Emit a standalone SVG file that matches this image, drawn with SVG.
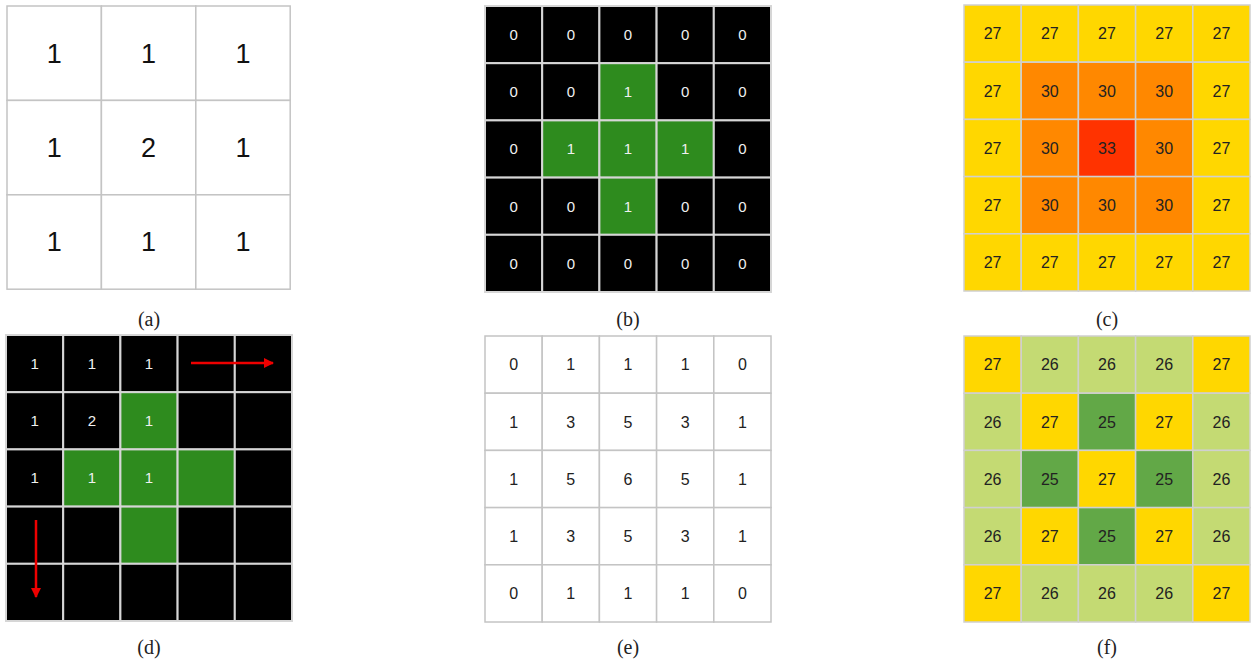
<svg xmlns="http://www.w3.org/2000/svg" width="1255" height="663" viewBox="0 0 1255 663">
<style>
.w{fill:#fff;stroke:#c4c4c4;stroke-width:1.5}
.k{fill:#000;stroke:#d6d6d6;stroke-width:2}
.g{fill:#2e8b1e;stroke:#d6d6d6;stroke-width:2}
.y{fill:#ffd700;stroke:#d0d0d0;stroke-width:1.5}
.o{fill:#ff8800;stroke:#d0d0d0;stroke-width:1.5}
.r{fill:#ff3300;stroke:#d0d0d0;stroke-width:1.5}
.lg{fill:#c4da73;stroke:#d0d0d0;stroke-width:1.5}
.dg{fill:#62a847;stroke:#d0d0d0;stroke-width:1.5}
text{font-family:"Liberation Sans",Arial,sans-serif;text-anchor:middle}
.ta{font-size:27px;fill:#111}
.tw{font-size:15px;fill:#f0f0f0}
.tb{font-size:16px;fill:#222}
.cap{font-family:"Liberation Serif","DejaVu Serif",serif;font-size:20px;fill:#222}
.arr{stroke:#ee0000;stroke-width:2.5;fill:none}
</style>
<defs>
<marker id="ah" viewBox="0 0 10 10" refX="9" refY="5" markerWidth="4" markerHeight="4" orient="auto" markerUnits="strokeWidth">
<path d="M0,0 L10,5 L0,10 z" fill="#ee0000"/>
</marker>
</defs>

<g id="panel-a" transform="translate(7,6)">
<rect class="w" x="0" y="0" width="94.4" height="94.4"/><rect class="w" x="94.4" y="0" width="94.4" height="94.4"/><rect class="w" x="188.8" y="0" width="94.4" height="94.4"/>
<rect class="w" x="0" y="94.4" width="94.4" height="94.4"/><rect class="w" x="94.4" y="94.4" width="94.4" height="94.4"/><rect class="w" x="188.8" y="94.4" width="94.4" height="94.4"/>
<rect class="w" x="0" y="188.8" width="94.4" height="94.4"/><rect class="w" x="94.4" y="188.8" width="94.4" height="94.4"/><rect class="w" x="188.8" y="188.8" width="94.4" height="94.4"/>
<text class="ta" x="47.2" y="56.5">1</text><text class="ta" x="141.6" y="56.5">1</text><text class="ta" x="236" y="56.5">1</text>
<text class="ta" x="47.2" y="150.9">1</text><text class="ta" x="141.6" y="150.9">2</text><text class="ta" x="236" y="150.9">1</text>
<text class="ta" x="47.2" y="245.3">1</text><text class="ta" x="141.6" y="245.3">1</text><text class="ta" x="236" y="245.3">1</text>
</g>

<g id="panel-b" transform="translate(485,6)">
<rect class="k" x="0" y="0" width="57.2" height="57.2"/><rect class="k" x="57.2" y="0" width="57.2" height="57.2"/><rect class="k" x="114.4" y="0" width="57.2" height="57.2"/><rect class="k" x="171.6" y="0" width="57.2" height="57.2"/><rect class="k" x="228.8" y="0" width="57.2" height="57.2"/>
<rect class="k" x="0" y="57.2" width="57.2" height="57.2"/><rect class="k" x="57.2" y="57.2" width="57.2" height="57.2"/><rect class="g" x="114.4" y="57.2" width="57.2" height="57.2"/><rect class="k" x="171.6" y="57.2" width="57.2" height="57.2"/><rect class="k" x="228.8" y="57.2" width="57.2" height="57.2"/>
<rect class="k" x="0" y="114.4" width="57.2" height="57.2"/><rect class="g" x="57.2" y="114.4" width="57.2" height="57.2"/><rect class="g" x="114.4" y="114.4" width="57.2" height="57.2"/><rect class="g" x="171.6" y="114.4" width="57.2" height="57.2"/><rect class="k" x="228.8" y="114.4" width="57.2" height="57.2"/>
<rect class="k" x="0" y="171.6" width="57.2" height="57.2"/><rect class="k" x="57.2" y="171.6" width="57.2" height="57.2"/><rect class="g" x="114.4" y="171.6" width="57.2" height="57.2"/><rect class="k" x="171.6" y="171.6" width="57.2" height="57.2"/><rect class="k" x="228.8" y="171.6" width="57.2" height="57.2"/>
<rect class="k" x="0" y="228.8" width="57.2" height="57.2"/><rect class="k" x="57.2" y="228.8" width="57.2" height="57.2"/><rect class="k" x="114.4" y="228.8" width="57.2" height="57.2"/><rect class="k" x="171.6" y="228.8" width="57.2" height="57.2"/><rect class="k" x="228.8" y="228.8" width="57.2" height="57.2"/>
<text class="tw" x="28.6" y="34">0</text><text class="tw" x="85.8" y="34">0</text><text class="tw" x="143" y="34">0</text><text class="tw" x="200.2" y="34">0</text><text class="tw" x="257.4" y="34">0</text>
<text class="tw" x="28.6" y="91.2">0</text><text class="tw" x="85.8" y="91.2">0</text><text class="tw" x="143" y="91.2">1</text><text class="tw" x="200.2" y="91.2">0</text><text class="tw" x="257.4" y="91.2">0</text>
<text class="tw" x="28.6" y="148.4">0</text><text class="tw" x="85.8" y="148.4">1</text><text class="tw" x="143" y="148.4">1</text><text class="tw" x="200.2" y="148.4">1</text><text class="tw" x="257.4" y="148.4">0</text>
<text class="tw" x="28.6" y="205.6">0</text><text class="tw" x="85.8" y="205.6">0</text><text class="tw" x="143" y="205.6">1</text><text class="tw" x="200.2" y="205.6">0</text><text class="tw" x="257.4" y="205.6">0</text>
<text class="tw" x="28.6" y="262.8">0</text><text class="tw" x="85.8" y="262.8">0</text><text class="tw" x="143" y="262.8">0</text><text class="tw" x="200.2" y="262.8">0</text><text class="tw" x="257.4" y="262.8">0</text>
</g>

<g id="panel-c" transform="translate(964,5)">
<rect class="y" x="0" y="0" width="57.2" height="57.2"/><rect class="y" x="57.2" y="0" width="57.2" height="57.2"/><rect class="y" x="114.4" y="0" width="57.2" height="57.2"/><rect class="y" x="171.6" y="0" width="57.2" height="57.2"/><rect class="y" x="228.8" y="0" width="57.2" height="57.2"/>
<rect class="y" x="0" y="57.2" width="57.2" height="57.2"/><rect class="o" x="57.2" y="57.2" width="57.2" height="57.2"/><rect class="o" x="114.4" y="57.2" width="57.2" height="57.2"/><rect class="o" x="171.6" y="57.2" width="57.2" height="57.2"/><rect class="y" x="228.8" y="57.2" width="57.2" height="57.2"/>
<rect class="y" x="0" y="114.4" width="57.2" height="57.2"/><rect class="o" x="57.2" y="114.4" width="57.2" height="57.2"/><rect class="r" x="114.4" y="114.4" width="57.2" height="57.2"/><rect class="o" x="171.6" y="114.4" width="57.2" height="57.2"/><rect class="y" x="228.8" y="114.4" width="57.2" height="57.2"/>
<rect class="y" x="0" y="171.6" width="57.2" height="57.2"/><rect class="o" x="57.2" y="171.6" width="57.2" height="57.2"/><rect class="o" x="114.4" y="171.6" width="57.2" height="57.2"/><rect class="o" x="171.6" y="171.6" width="57.2" height="57.2"/><rect class="y" x="228.8" y="171.6" width="57.2" height="57.2"/>
<rect class="y" x="0" y="228.8" width="57.2" height="57.2"/><rect class="y" x="57.2" y="228.8" width="57.2" height="57.2"/><rect class="y" x="114.4" y="228.8" width="57.2" height="57.2"/><rect class="y" x="171.6" y="228.8" width="57.2" height="57.2"/><rect class="y" x="228.8" y="228.8" width="57.2" height="57.2"/>
<text class="tb" x="28.6" y="34.3">27</text><text class="tb" x="85.8" y="34.3">27</text><text class="tb" x="143" y="34.3">27</text><text class="tb" x="200.2" y="34.3">27</text><text class="tb" x="257.4" y="34.3">27</text>
<text class="tb" x="28.6" y="91.5">27</text><text class="tb" x="85.8" y="91.5">30</text><text class="tb" x="143" y="91.5">30</text><text class="tb" x="200.2" y="91.5">30</text><text class="tb" x="257.4" y="91.5">27</text>
<text class="tb" x="28.6" y="148.7">27</text><text class="tb" x="85.8" y="148.7">30</text><text class="tb" x="143" y="148.7">33</text><text class="tb" x="200.2" y="148.7">30</text><text class="tb" x="257.4" y="148.7">27</text>
<text class="tb" x="28.6" y="205.9">27</text><text class="tb" x="85.8" y="205.9">30</text><text class="tb" x="143" y="205.9">30</text><text class="tb" x="200.2" y="205.9">30</text><text class="tb" x="257.4" y="205.9">27</text>
<text class="tb" x="28.6" y="263.1">27</text><text class="tb" x="85.8" y="263.1">27</text><text class="tb" x="143" y="263.1">27</text><text class="tb" x="200.2" y="263.1">27</text><text class="tb" x="257.4" y="263.1">27</text>
</g>

<g id="panel-d" transform="translate(6,335)">
<rect class="k" x="0" y="0" width="57.2" height="57.2"/><rect class="k" x="57.2" y="0" width="57.2" height="57.2"/><rect class="k" x="114.4" y="0" width="57.2" height="57.2"/><rect class="k" x="171.6" y="0" width="57.2" height="57.2"/><rect class="k" x="228.8" y="0" width="57.2" height="57.2"/>
<rect class="k" x="0" y="57.2" width="57.2" height="57.2"/><rect class="k" x="57.2" y="57.2" width="57.2" height="57.2"/><rect class="g" x="114.4" y="57.2" width="57.2" height="57.2"/><rect class="k" x="171.6" y="57.2" width="57.2" height="57.2"/><rect class="k" x="228.8" y="57.2" width="57.2" height="57.2"/>
<rect class="k" x="0" y="114.4" width="57.2" height="57.2"/><rect class="g" x="57.2" y="114.4" width="57.2" height="57.2"/><rect class="g" x="114.4" y="114.4" width="57.2" height="57.2"/><rect class="g" x="171.6" y="114.4" width="57.2" height="57.2"/><rect class="k" x="228.8" y="114.4" width="57.2" height="57.2"/>
<rect class="k" x="0" y="171.6" width="57.2" height="57.2"/><rect class="k" x="57.2" y="171.6" width="57.2" height="57.2"/><rect class="g" x="114.4" y="171.6" width="57.2" height="57.2"/><rect class="k" x="171.6" y="171.6" width="57.2" height="57.2"/><rect class="k" x="228.8" y="171.6" width="57.2" height="57.2"/>
<rect class="k" x="0" y="228.8" width="57.2" height="57.2"/><rect class="k" x="57.2" y="228.8" width="57.2" height="57.2"/><rect class="k" x="114.4" y="228.8" width="57.2" height="57.2"/><rect class="k" x="171.6" y="228.8" width="57.2" height="57.2"/><rect class="k" x="228.8" y="228.8" width="57.2" height="57.2"/>
<text class="tw" x="28.6" y="34">1</text><text class="tw" x="85.8" y="34">1</text><text class="tw" x="143" y="34">1</text>
<text class="tw" x="28.6" y="91.2">1</text><text class="tw" x="85.8" y="91.2">2</text><text class="tw" x="143" y="91.2">1</text>
<text class="tw" x="28.6" y="148.4">1</text><text class="tw" x="85.8" y="148.4">1</text><text class="tw" x="143" y="148.4">1</text>
</g>

<g id="connectors">
<line class="arr" x1="191" y1="363" x2="273" y2="363" marker-end="url(#ah)"/>
<line class="arr" x1="36" y1="520" x2="36" y2="597" marker-end="url(#ah)"/>
</g>

<g id="panel-e" transform="translate(485,336)">
<rect class="w" x="0" y="0" width="57.2" height="57.2"/><rect class="w" x="57.2" y="0" width="57.2" height="57.2"/><rect class="w" x="114.4" y="0" width="57.2" height="57.2"/><rect class="w" x="171.6" y="0" width="57.2" height="57.2"/><rect class="w" x="228.8" y="0" width="57.2" height="57.2"/>
<rect class="w" x="0" y="57.2" width="57.2" height="57.2"/><rect class="w" x="57.2" y="57.2" width="57.2" height="57.2"/><rect class="w" x="114.4" y="57.2" width="57.2" height="57.2"/><rect class="w" x="171.6" y="57.2" width="57.2" height="57.2"/><rect class="w" x="228.8" y="57.2" width="57.2" height="57.2"/>
<rect class="w" x="0" y="114.4" width="57.2" height="57.2"/><rect class="w" x="57.2" y="114.4" width="57.2" height="57.2"/><rect class="w" x="114.4" y="114.4" width="57.2" height="57.2"/><rect class="w" x="171.6" y="114.4" width="57.2" height="57.2"/><rect class="w" x="228.8" y="114.4" width="57.2" height="57.2"/>
<rect class="w" x="0" y="171.6" width="57.2" height="57.2"/><rect class="w" x="57.2" y="171.6" width="57.2" height="57.2"/><rect class="w" x="114.4" y="171.6" width="57.2" height="57.2"/><rect class="w" x="171.6" y="171.6" width="57.2" height="57.2"/><rect class="w" x="228.8" y="171.6" width="57.2" height="57.2"/>
<rect class="w" x="0" y="228.8" width="57.2" height="57.2"/><rect class="w" x="57.2" y="228.8" width="57.2" height="57.2"/><rect class="w" x="114.4" y="228.8" width="57.2" height="57.2"/><rect class="w" x="171.6" y="228.8" width="57.2" height="57.2"/><rect class="w" x="228.8" y="228.8" width="57.2" height="57.2"/>
<text class="tb" x="28.6" y="34.3">0</text><text class="tb" x="85.8" y="34.3">1</text><text class="tb" x="143" y="34.3">1</text><text class="tb" x="200.2" y="34.3">1</text><text class="tb" x="257.4" y="34.3">0</text>
<text class="tb" x="28.6" y="91.5">1</text><text class="tb" x="85.8" y="91.5">3</text><text class="tb" x="143" y="91.5">5</text><text class="tb" x="200.2" y="91.5">3</text><text class="tb" x="257.4" y="91.5">1</text>
<text class="tb" x="28.6" y="148.7">1</text><text class="tb" x="85.8" y="148.7">5</text><text class="tb" x="143" y="148.7">6</text><text class="tb" x="200.2" y="148.7">5</text><text class="tb" x="257.4" y="148.7">1</text>
<text class="tb" x="28.6" y="205.9">1</text><text class="tb" x="85.8" y="205.9">3</text><text class="tb" x="143" y="205.9">5</text><text class="tb" x="200.2" y="205.9">3</text><text class="tb" x="257.4" y="205.9">1</text>
<text class="tb" x="28.6" y="263.1">0</text><text class="tb" x="85.8" y="263.1">1</text><text class="tb" x="143" y="263.1">1</text><text class="tb" x="200.2" y="263.1">1</text><text class="tb" x="257.4" y="263.1">0</text>
</g>

<g id="panel-f" transform="translate(964,336)">
<rect class="y" x="0" y="0" width="57.2" height="57.2"/><rect class="lg" x="57.2" y="0" width="57.2" height="57.2"/><rect class="lg" x="114.4" y="0" width="57.2" height="57.2"/><rect class="lg" x="171.6" y="0" width="57.2" height="57.2"/><rect class="y" x="228.8" y="0" width="57.2" height="57.2"/>
<rect class="lg" x="0" y="57.2" width="57.2" height="57.2"/><rect class="y" x="57.2" y="57.2" width="57.2" height="57.2"/><rect class="dg" x="114.4" y="57.2" width="57.2" height="57.2"/><rect class="y" x="171.6" y="57.2" width="57.2" height="57.2"/><rect class="lg" x="228.8" y="57.2" width="57.2" height="57.2"/>
<rect class="lg" x="0" y="114.4" width="57.2" height="57.2"/><rect class="dg" x="57.2" y="114.4" width="57.2" height="57.2"/><rect class="y" x="114.4" y="114.4" width="57.2" height="57.2"/><rect class="dg" x="171.6" y="114.4" width="57.2" height="57.2"/><rect class="lg" x="228.8" y="114.4" width="57.2" height="57.2"/>
<rect class="lg" x="0" y="171.6" width="57.2" height="57.2"/><rect class="y" x="57.2" y="171.6" width="57.2" height="57.2"/><rect class="dg" x="114.4" y="171.6" width="57.2" height="57.2"/><rect class="y" x="171.6" y="171.6" width="57.2" height="57.2"/><rect class="lg" x="228.8" y="171.6" width="57.2" height="57.2"/>
<rect class="y" x="0" y="228.8" width="57.2" height="57.2"/><rect class="lg" x="57.2" y="228.8" width="57.2" height="57.2"/><rect class="lg" x="114.4" y="228.8" width="57.2" height="57.2"/><rect class="lg" x="171.6" y="228.8" width="57.2" height="57.2"/><rect class="y" x="228.8" y="228.8" width="57.2" height="57.2"/>
<text class="tb" x="28.6" y="34.3">27</text><text class="tb" x="85.8" y="34.3">26</text><text class="tb" x="143" y="34.3">26</text><text class="tb" x="200.2" y="34.3">26</text><text class="tb" x="257.4" y="34.3">27</text>
<text class="tb" x="28.6" y="91.5">26</text><text class="tb" x="85.8" y="91.5">27</text><text class="tb" x="143" y="91.5">25</text><text class="tb" x="200.2" y="91.5">27</text><text class="tb" x="257.4" y="91.5">26</text>
<text class="tb" x="28.6" y="148.7">26</text><text class="tb" x="85.8" y="148.7">25</text><text class="tb" x="143" y="148.7">27</text><text class="tb" x="200.2" y="148.7">25</text><text class="tb" x="257.4" y="148.7">26</text>
<text class="tb" x="28.6" y="205.9">26</text><text class="tb" x="85.8" y="205.9">27</text><text class="tb" x="143" y="205.9">25</text><text class="tb" x="200.2" y="205.9">27</text><text class="tb" x="257.4" y="205.9">26</text>
<text class="tb" x="28.6" y="263.1">27</text><text class="tb" x="85.8" y="263.1">26</text><text class="tb" x="143" y="263.1">26</text><text class="tb" x="200.2" y="263.1">26</text><text class="tb" x="257.4" y="263.1">27</text>
</g>

<g id="captions">
<text class="cap" x="149" y="326">(a)</text>
<text class="cap" x="628" y="326">(b)</text>
<text class="cap" x="1107" y="326">(c)</text>
<text class="cap" x="149" y="654">(d)</text>
<text class="cap" x="628" y="654">(e)</text>
<text class="cap" x="1107" y="654">(f)</text>
</g>
</svg>
